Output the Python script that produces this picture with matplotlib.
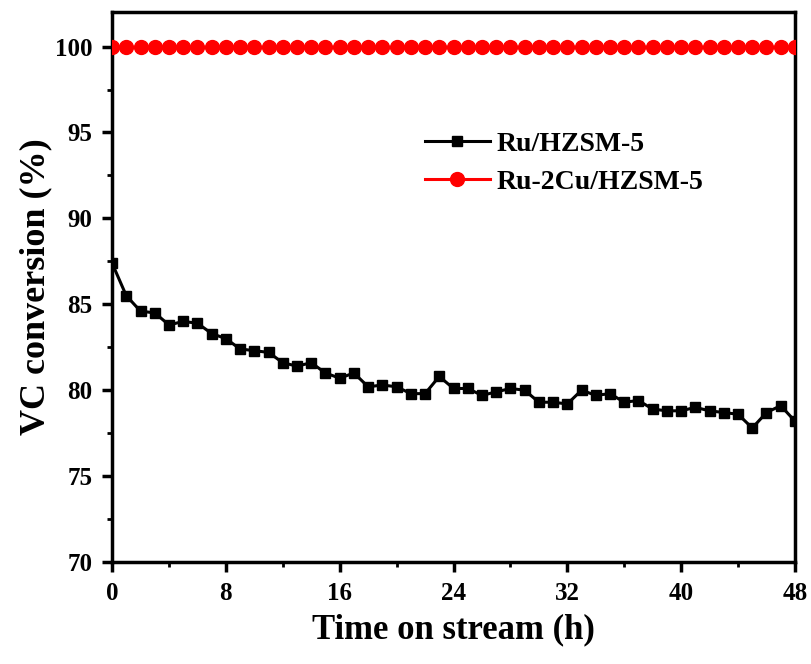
#!/usr/bin/env python3
"""
VC conversion vs time on stream for Ru/HZSM-5 and Ru-2Cu/HZSM-5.
"""

import matplotlib
matplotlib.use('Agg')
import matplotlib.pyplot as plt
from matplotlib.ticker import MultipleLocator

# Data
hours = list(range(0, 49))
ru_hzsm5 = [87.4, 85.5, 84.6, 84.5, 83.8, 84.0, 83.9, 83.3, 83.0, 82.4,
            82.3, 82.2, 81.6, 81.4, 81.6, 81.0, 80.7, 81.0, 80.2, 80.3,
            80.2, 79.8, 79.8, 80.8, 80.1, 80.1, 79.7, 79.9, 80.1, 80.0,
            79.3, 79.3, 79.2, 80.0, 79.7, 79.8, 79.3, 79.4, 78.9, 78.8,
            78.8, 79.0, 78.8, 78.7, 78.6, 77.8, 78.7, 79.1, 78.2]
ru_2cu_hzsm5 = [100.0] * 49

x_ticks = [0, 8, 16, 24, 32, 40, 48]
y_ticks = [70, 75, 80, 85, 90, 95, 100]

plt.rcParams['font.family'] = ['Liberation Serif', 'DejaVu Serif']
plt.rcParams['font.weight'] = 'bold'

fig = plt.figure(figsize=(8.12, 6.64), dpi=100)
ax = fig.add_axes([0.138, 0.1536, 0.841, 0.828])

ax.plot(hours, ru_hzsm5, color='black', linewidth=2.2, marker='s',
        markersize=7.2, label='Ru/HZSM-5', zorder=3)
ax.plot(hours, ru_2cu_hzsm5, color='red', linewidth=2.2, marker='o',
        markersize=10, label='Ru-2Cu/HZSM-5', zorder=3)

ax.set_xlim(0, 48)
ax.set_ylim(70, 102)
ax.set_xticks(x_ticks)
ax.set_yticks(y_ticks)
ax.xaxis.set_minor_locator(MultipleLocator(4))
ax.yaxis.set_minor_locator(MultipleLocator(2.5))

for s in ax.spines.values():
    s.set_linewidth(2.5)
ax.tick_params(which='major', direction='out', length=7.2, width=2.5,
               labelsize=18, pad=7)
ax.tick_params(which='minor', direction='out', length=3.5, width=2.0)
for lab in ax.get_xticklabels() + ax.get_yticklabels():
    lab.set_fontweight('bold')

ax.set_xlabel('Time on stream (h)', fontsize=25, fontweight='bold', labelpad=6)
ax.set_ylabel('VC conversion (%)', fontsize=26, fontweight='bold', labelpad=2)

leg = ax.legend(loc='upper left', bbox_to_anchor=(0.458, 0.783), frameon=False,
                fontsize=20, handlelength=2.35, handletextpad=0.25,
                labelspacing=0.45, borderpad=0, borderaxespad=0)
for t in leg.get_texts():
    t.set_fontweight('bold')

fig.savefig('out.png', dpi=100)
